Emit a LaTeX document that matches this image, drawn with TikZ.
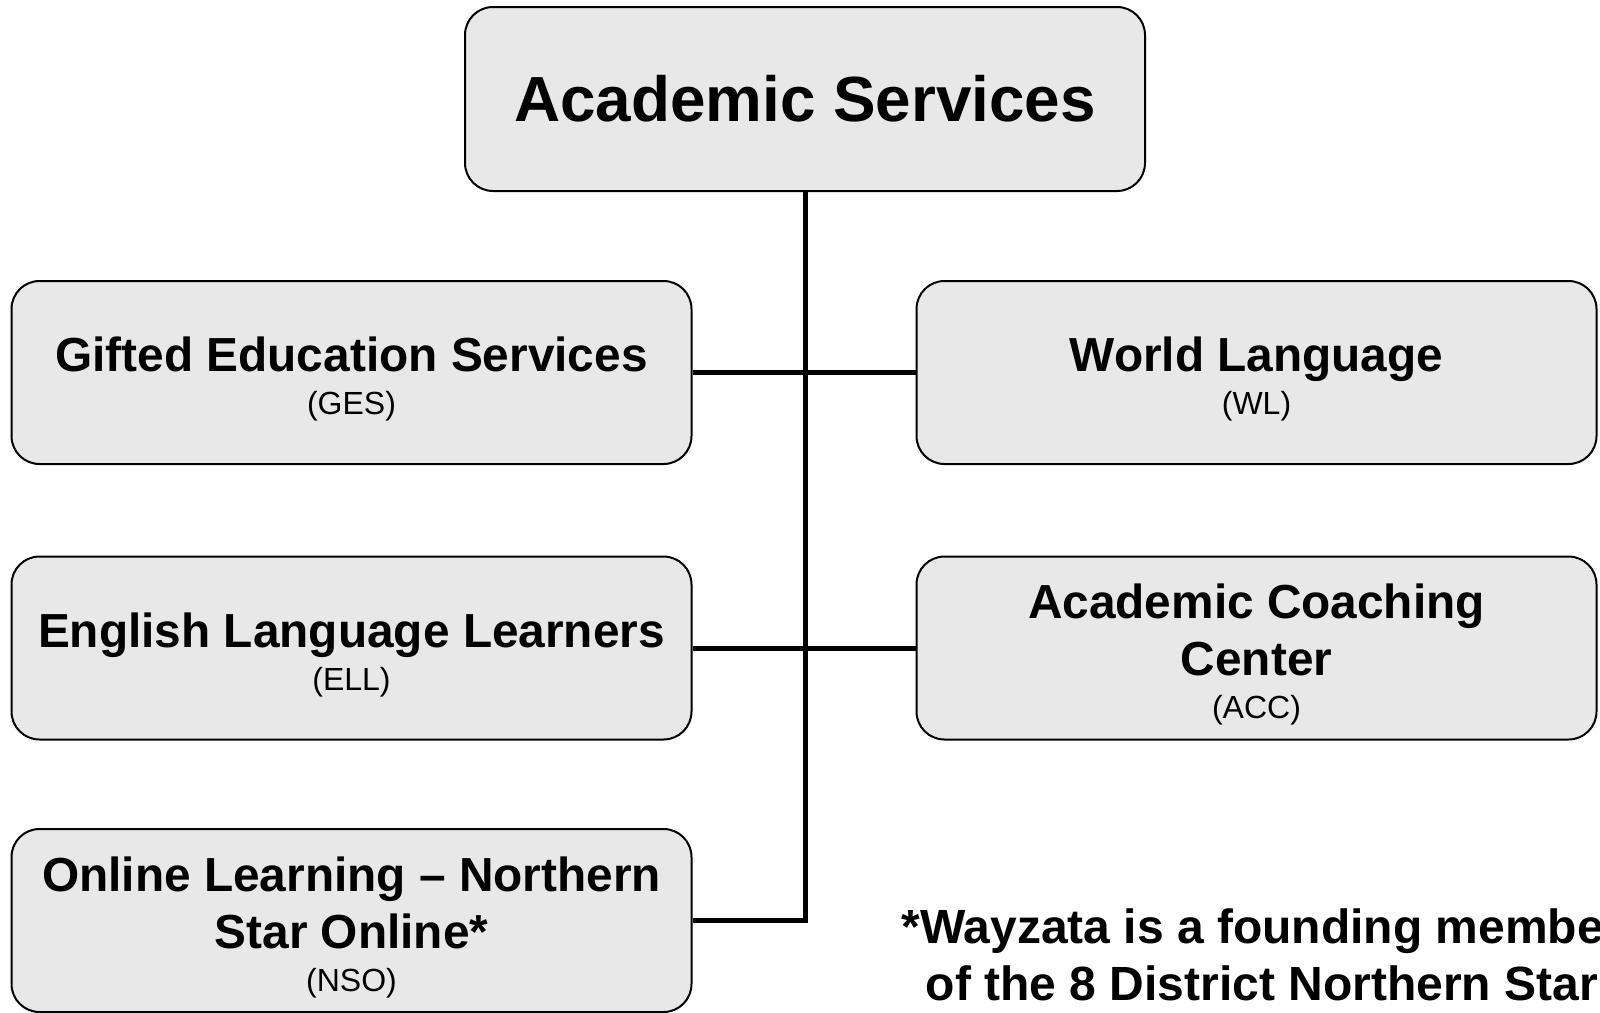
\documentclass[tikz,border=0pt]{standalone}
\usepackage{fontspec}
\setmainfont{Liberation Sans}
\usetikzlibrary{calc}
\definecolor{boxgray}{RGB}{232,232,232}
\newcommand{\boxfont}{\fontsize{23.9}{28.5}\selectfont\bfseries}
\newcommand{\abbrfont}{\fontsize{16}{19}\selectfont\mdseries}
\tikzset{
	unitbox/.style={draw=black, line width=1pt, fill=boxgray, rounded corners=14pt,
		minimum width=340pt, minimum height=91.5pt, align=center, inner sep=0pt, font=\boxfont},
	link/.style={line width=2.5pt}
}

\begin{document}
\begin{tikzpicture}[x=0.5pt, y=-0.5pt]
	\useasboundingbox (0,0) rectangle (1600,1012);
	\clip (0,0) rectangle (1600,1012);
	\node[unitbox, minimum height=92pt, font=\fontsize{31.9}{38}\selectfont\bfseries] (as) at (805,99) {Academic Services};
	\foreach \name/\x/\y/\label/\abbr in {
		ges/351.5/372.5/{Gifted Education Services}/GES,
		ell/351.5/648/{English Language Learners}/ELL,
		nso/351.5/920.5/{Online Learning -- Northern\\Star Online*}/NSO,
		wl/1256.5/372.5/{World Language}/WL,
		acc/1256.5/648/{Academic Coaching\\Center}/ACC} {
		\node[unitbox] (\name) at (\x,\y) {\rule{0pt}{24pt}\label\\[-7pt]{\abbrfont(\abbr)}};
	}
	\draw[link] (as.south) -- (as.south |- nso.east) -- (nso.east);
	\draw[link] (ges.east) -- (wl.west);
	\draw[link] (ell.east) -- (acc.west);
	\node[font=\fontsize{24}{28.5}\selectfont\bfseries, align=center] (note) at (1262,955)
		{*Wayzata is a founding member\\of the 8 District Northern Star};
\end{tikzpicture}
\end{document}
